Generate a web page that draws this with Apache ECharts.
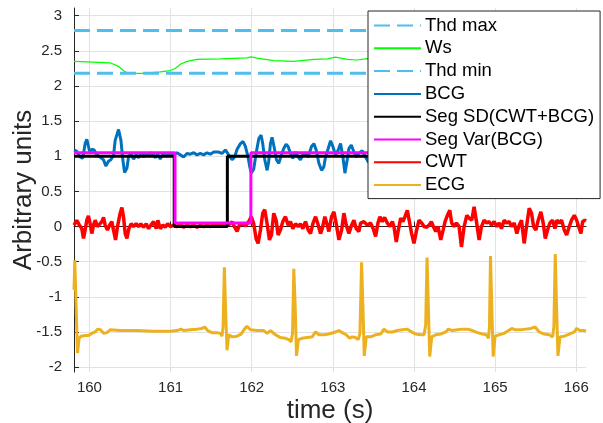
<!DOCTYPE html>
<html>
<head>
<meta charset="utf-8">
<script src="https://cdn.jsdelivr.net/npm/echarts@6/dist/echarts.min.js"></script>
<style>
  html, body { margin: 0; padding: 0; background: #fff; }
  #chart { width: 603px; height: 423px; }
</style>
</head>
<body>
<div id="chart"></div>
<script>
// axis limits (s / arbitrary units)
const xLimits = [159.81, 166.12];
const yLimits = [-2.07, 3.11];

// thresholds
const thdMax = 2.79;
const thdMin = 2.18;

// Ws
const wsT = [159.81, 160.05, 160.255, 160.358, 160.44, 160.502, 160.667, 160.872, 160.996, 161.058, 161.12, 161.202, 161.325, 161.613, 161.86, 161.942, 161.992, 162.066, 162.272, 162.519, 162.766, 162.93, 163.033, 163.177, 163.3, 163.424, 163.5];
const wsV = [2.35, 2.34, 2.33, 2.28, 2.20, 2.18, 2.18, 2.20, 2.22, 2.25, 2.31, 2.35, 2.38, 2.387, 2.397, 2.40, 2.415, 2.397, 2.36, 2.35, 2.38, 2.387, 2.41, 2.38, 2.37, 2.39, 2.38];

// BCG
const bcgT = [159.811, 159.844, 159.885, 159.918, 159.947, 159.968, 159.988, 160.009, 160.03, 160.058, 160.091, 160.132, 160.174, 160.202, 160.235, 160.264, 160.297, 160.318, 160.359, 160.388, 160.412, 160.433, 160.462, 160.482, 160.511, 160.544, 160.577, 160.606, 160.639, 160.667, 160.7, 160.729, 160.77, 160.811, 160.84, 160.873, 160.906, 160.947, 160.988, 161.038, 161.079, 161.12, 161.161, 161.202, 161.243, 161.285, 161.326, 161.367, 161.408, 161.449, 161.49, 161.532,
  161.552, 161.593, 161.634, 161.675, 161.717, 161.758, 161.79, 161.82, 161.861, 161.894, 161.922, 161.955, 161.976, 161.996, 162.025, 162.054, 162.087, 162.116, 162.136, 162.161, 162.19, 162.21, 162.231, 162.251, 162.28, 162.305, 162.334, 162.367, 162.395, 162.424, 162.449, 162.478, 162.507, 162.54, 162.573, 162.601, 162.63, 162.663, 162.696, 162.737, 162.766, 162.795, 162.828, 162.861, 162.889, 162.91, 162.943, 162.972, 163.0, 163.033, 163.066, 163.095, 163.124, 163.149, 163.177, 163.198, 163.227, 163.26, 163.288, 163.321, 163.362, 163.403, 163.437, 163.47];
const bcgV = [1.09, 1.07, 0.99, 0.97, 1.18, 1.24, 1.14, 1.04, 1.10, 1.09, 1.02, 0.99, 0.95, 0.86, 0.93, 0.95, 1.01, 1.23, 1.38, 1.23, 0.95, 0.77, 0.83, 0.99, 1.04, 0.96, 1.02, 0.98, 1.05, 0.99, 1.04, 1.01, 1.05, 0.98, 1.03, 0.96, 1.03, 1.0, 1.04, 1.02, 1.05, 1.02, 0.99, 1.04, 1.03, 1.05, 1.02, 1.04, 1.02, 1.05, 1.03, 1.06,
  1.05, 1.06, 1.04, 1.09, 1.02, 0.95, 0.99, 1.10, 1.18, 1.21, 1.14, 0.99, 0.85, 0.76, 0.82, 1.04, 1.25, 1.30, 1.18, 0.95, 0.80, 0.93, 1.18, 1.27, 1.11, 0.95, 0.90, 1.02, 1.11, 1.17, 1.14, 1.04, 0.97, 1.06, 0.99, 0.95, 1.02, 1.05, 0.99, 1.14, 1.18, 1.09, 0.90, 0.80, 0.85, 0.99, 1.11, 1.22, 1.14, 1.02, 1.09, 1.18, 0.99, 0.76, 0.95, 1.11, 1.16, 1.06, 0.99, 1.04, 1.08, 0.99, 0.92, 0.90];

// segmentation outputs
const sdT = [159.81, 161.045, 161.045, 161.70, 161.70, 166.12];
const sdV = [1, 1, 0, 0, 1, 1];
const varT = [159.81, 161.055, 161.055, 161.99, 161.99, 166.12];
const varV = [1.05, 1.05, 0.05, 0.05, 1.05, 1.05];

// CWT
const cwtT = [159.811, 159.844, 159.877, 159.906, 159.927, 159.947, 159.968, 159.988, 160.009, 160.03, 160.05, 160.071, 160.1, 160.124, 160.153, 160.174, 160.194, 160.223, 160.248, 160.276, 160.297, 160.322, 160.346, 160.379, 160.4, 160.42, 160.441, 160.462, 160.486, 160.515, 160.544, 160.577, 160.606, 160.634, 160.667, 160.7, 160.729, 160.758, 160.791, 160.824, 160.844, 160.873, 160.906, 160.935, 160.964, 160.997, 161.038, 161.079, 161.12, 161.161, 161.202, 161.243, 161.285, 161.326, 161.367, 161.408, 161.449, 161.49, 161.532,
  161.552, 161.593, 161.634, 161.675, 161.717, 161.758, 161.79, 161.82, 161.848, 161.881, 161.922, 161.963, 161.996, 162.025, 162.054, 162.079, 162.108, 162.136, 162.161, 162.19, 162.219, 162.243, 162.272, 162.301, 162.326, 162.354, 162.383, 162.416, 162.449, 162.478, 162.507, 162.54, 162.573, 162.601, 162.63, 162.663, 162.696, 162.725, 162.754, 162.787, 162.815, 162.848, 162.869, 162.902, 162.931, 162.951, 162.984, 163.013, 163.042, 163.075, 163.108, 163.136, 163.165, 163.198, 163.231, 163.26, 163.288, 163.321,
  163.342, 163.383, 163.424, 163.465, 163.498, 163.527, 163.556, 163.58, 163.609, 163.638, 163.671, 163.704, 163.733, 163.753, 163.782, 163.807, 163.836, 163.864, 163.889, 163.918, 163.947, 163.971, 164.0, 164.029, 164.062, 164.095, 164.124, 164.157, 164.186, 164.214, 164.239, 164.268, 164.297, 164.33, 164.359, 164.383, 164.412, 164.441, 164.465, 164.494, 164.523, 164.556, 164.585, 164.618, 164.651, 164.679, 164.712, 164.741, 164.77, 164.803, 164.832, 164.864, 164.897, 164.926, 164.955, 164.988,
  165.021, 165.05, 165.078, 165.111, 165.14, 165.173, 165.202, 165.235, 165.268, 165.297, 165.325, 165.358, 165.387, 165.42, 165.449, 165.474, 165.502, 165.531, 165.564, 165.593, 165.618, 165.646, 165.675, 165.708, 165.737, 165.762, 165.79, 165.819, 165.852, 165.881, 165.914, 165.942, 165.976, 166.005, 166.029, 166.058, 166.078, 166.107, 166.12];
const cwtV = [0.02, 0.09, 0.02, -0.03, -0.17, -0.05, 0.09, 0.15, 0.04, -0.10, 0.02, 0.09, 0.0, 0.02, 0.07, 0.13, 0.02, -0.05, 0.02, 0.07, -0.05, -0.19, 0.0, 0.19, 0.27, 0.14, -0.10, -0.17, -0.03, 0.04, 0.0, 0.04, 0.0, 0.04, -0.01, 0.04, -0.03, 0.02, 0.07, -0.03, 0.09, -0.03, 0.02, -0.01, 0.04, 0.0, 0.02, 0.0, 0.04, -0.01, 0.02, 0.0, 0.02, -0.01, 0.02, 0.0, 0.02, 0.0, 0.03,
  0.02, 0.04, 0.0, 0.04, 0.02, 0.07, -0.01, -0.07, 0.02, 0.04, 0.01, 0.07, 0.14, 0.04, -0.17, -0.24, -0.05, 0.19, 0.24, 0.04, -0.19, -0.12, 0.19, 0.09, -0.12, -0.05, 0.07, 0.14, 0.02, 0.07, -0.03, 0.04, 0.0, 0.04, -0.03, 0.07, -0.05, -0.10, 0.04, 0.14, 0.04, -0.10, -0.03, 0.14, 0.02, -0.07, 0.14, 0.21, 0.04, -0.19, -0.05, 0.19, 0.02, -0.10, 0.02, 0.09, -0.03, -0.07,
  0.05, 0.07, 0.02, 0.05, -0.03, -0.14, 0.05, 0.14, 0.07, 0.13, 0.05, 0.0, 0.07, 0.0, -0.22, -0.05, 0.12, 0.07, 0.14, 0.23, 0.05, -0.10, -0.24, -0.07, 0.09, 0.05, 0.0, -0.01, 0.02, 0.07, 0.0, -0.07, 0.0, -0.19, -0.05, 0.07, 0.16, 0.23, 0.05, 0.0, 0.05, 0.0, -0.29, 0.0, 0.16, 0.12, 0.09, 0.28, 0.07, -0.19, 0.0, 0.09, 0.05, 0.07, 0.02, 0.07,
  0.0, 0.05, -0.03, 0.09, 0.05, 0.07, 0.0, 0.05, -0.10, 0.02, 0.09, -0.24, 0.0, 0.26, 0.19, 0.0, -0.05, 0.09, 0.21, 0.05, -0.17, -0.05, 0.05, 0.09, -0.03, 0.09, 0.05, 0.09, -0.05, -0.12, 0.0, 0.09, 0.16, 0.09, 0.0, -0.10, 0.07, 0.09, 0.08];

// ECG
const ecgT = [159.81, 159.82, 159.836, 159.853, 159.873, 159.898, 159.947, 159.988, 160.03, 160.071, 160.1, 160.14, 160.174, 160.215, 160.256, 160.379, 160.585, 160.791, 160.997, 161.079, 161.128, 161.161, 161.243, 161.326, 161.387, 161.42, 161.457, 161.511, 161.573, 161.614, 161.634, 161.647, 161.663, 161.68, 161.696, 161.717, 161.758, 161.82, 161.869, 161.91, 161.943, 161.984, 162.066, 162.148, 162.19, 162.231, 162.293, 162.355, 162.416, 162.457, 162.486, 162.503, 162.519, 162.536, 162.552, 162.576, 162.622, 162.684, 162.745, 162.787, 162.828, 162.89, 162.951, 163.033, 163.075, 163.116, 163.165, 163.206, 163.239, 163.28, 163.313, 163.334, 163.354, 163.371, 163.387, 163.412, 163.466, 163.527, 163.589, 163.63, 163.671, 163.733, 163.795, 163.856, 163.918, 163.971, 164.021, 164.083, 164.124, 164.144, 164.161, 164.177, 164.194, 164.219, 164.268, 164.33, 164.391, 164.424, 164.473, 164.535, 164.597, 164.659, 164.72, 164.782, 164.844, 164.893, 164.918, 164.93, 164.943, 164.959, 164.976, 165.0, 165.05, 165.112, 165.165, 165.206, 165.247, 165.317, 165.379, 165.441, 165.494, 165.543, 165.605, 165.667, 165.708, 165.724, 165.741, 165.757, 165.774, 165.799, 165.852, 165.914, 165.976, 166.004, 166.045, 166.099, 166.12];
const ecgV = [-0.90, -0.48, -1.14, -1.80, -1.59, -1.56, -1.55, -1.55, -1.52, -1.50, -1.46, -1.47, -1.52, -1.51, -1.47, -1.48, -1.48, -1.49, -1.49, -1.48, -1.46, -1.48, -1.47, -1.46, -1.45, -1.43, -1.48, -1.51, -1.51, -1.52, -1.56, -1.43, -0.58, -1.24, -1.76, -1.54, -1.57, -1.56, -1.53, -1.46, -1.42, -1.47, -1.48, -1.48, -1.52, -1.48, -1.54, -1.58, -1.59, -1.61, -1.64, -1.52, -0.60, -1.14, -1.84, -1.61, -1.59, -1.58, -1.57, -1.50, -1.54, -1.54, -1.53, -1.50, -1.48, -1.51, -1.54, -1.59, -1.57, -1.58, -1.61, -1.52, -0.51, -1.14, -1.84, -1.57, -1.57, -1.54, -1.53, -1.46, -1.50, -1.50, -1.48, -1.47, -1.46, -1.50, -1.53, -1.54, -1.54, -1.40, -0.44, -1.14, -1.85, -1.57, -1.54, -1.53, -1.50, -1.46, -1.48, -1.47, -1.46, -1.46, -1.48, -1.51, -1.53, -1.54, -1.59, -1.43, -0.42, -1.14, -1.85, -1.56, -1.54, -1.52, -1.48, -1.45, -1.47, -1.47, -1.46, -1.45, -1.43, -1.50, -1.53, -1.54, -1.57, -1.43, -0.39, -1.14, -1.84, -1.57, -1.56, -1.53, -1.50, -1.45, -1.48, -1.48, -1.49];

function pairs(t, v) {
  return t.map(function (x, i) { return [x, v[i]]; });
}

var font = 'Liberation Sans, Arial, Helvetica, sans-serif';
var axisColor = '#262626';
var gridColor = '#e2e2e2';

var myChart = echarts.init(document.getElementById('chart'));

function lineSeries(name, data, color, width, dashed, z) {
  return {
    name: name,
    type: 'line',
    data: data,
    z: z,
    symbol: 'none',
    showSymbol: false,
    animation: false,
    clip: true,
    lineStyle: { color: color, width: width, type: dashed ? [16, 7] : 'solid' },
    itemStyle: { color: color }
  };
}

var option = {
  backgroundColor: '#fff',
  animation: false,
  grid: { left: 74, right: 17, top: 8, bottom: 51, containLabel: false, outerBoundsMode: 'none' },
  legend: {
    orient: 'vertical',
    z: 20,
    left: 368,
    top: 11,
    padding: [5, 6, 4, 5],
    itemWidth: 47,
    itemHeight: 14,
    itemGap: 3.8,
    backgroundColor: '#fff',
    borderColor: axisColor,
    borderWidth: 1,
    borderRadius: 0,
    itemStyle: { opacity: 0 },
    textStyle: { fontFamily: font, fontSize: 18.5, color: '#000', lineHeight: 18, padding: [0, 0, 0, -1] },
    data: ['Thd max', 'Ws', 'Thd min', 'BCG', 'Seg SD(CWT+BCG)', 'Seg Var(BCG)', 'CWT', 'ECG']
  },
  xAxis: {
    type: 'value',
    min: xLimits[0],
    max: xLimits[1],
    splitNumber: 6,
    name: 'time (s)',
    nameLocation: 'middle',
    nameGap: 26,
    nameMoveOverlap: false,
    nameTextStyle: { fontFamily: font, fontSize: 26, color: axisColor },
    axisLine: { show: true, lineStyle: { color: axisColor, width: 1 } },
    axisTick: { show: true, inside: true, length: 5, lineStyle: { color: axisColor } },
    axisLabel: { fontFamily: font, fontSize: 15, color: axisColor, margin: 8, showMinLabel: false, showMaxLabel: false },
    splitLine: { show: true, showMinLine: false, showMaxLine: false, lineStyle: { color: gridColor, width: 1 } }
  },
  yAxis: {
    type: 'value',
    min: yLimits[0],
    max: yLimits[1],
    splitNumber: 10,
    name: 'Arbitrary units',
    nameLocation: 'middle',
    nameGap: 37,
    nameMoveOverlap: false,
    nameTextStyle: { fontFamily: font, fontSize: 26, color: axisColor },
    axisLine: { show: true, lineStyle: { color: axisColor, width: 1 } },
    axisTick: { show: true, inside: true, length: 5, lineStyle: { color: axisColor } },
    axisLabel: { fontFamily: font, fontSize: 15, color: axisColor, margin: 12, showMinLabel: false, showMaxLabel: false },
    splitLine: { show: true, showMinLine: false, showMaxLine: false, lineStyle: { color: gridColor, width: 1 } }
  },
  series: [
    lineSeries('Thd max', pairs(xLimits, [thdMax, thdMax]), '#4DBEEE', 3, true, 2),
    lineSeries('Ws', pairs(wsT, wsV), '#00FF00', 1.2, false, 2),
    lineSeries('Thd min', pairs(xLimits, [thdMin, thdMin]), '#4DBEEE', 3, true, 2),
    lineSeries('BCG', pairs(bcgT, bcgV), '#0072BD', 3, false, 3),
    lineSeries('Seg SD(CWT+BCG)', pairs(sdT, sdV), '#000000', 3, false, 4),
    lineSeries('Seg Var(BCG)', pairs(varT, varV), '#FF00FF', 3, false, 5),
    lineSeries('CWT', pairs(cwtT, cwtV), '#FF0000', 3.5, false, 2),
    lineSeries('ECG', pairs(ecgT, ecgV), '#EDB120', 3, false, 2)
  ]
};

myChart.setOption(option);
</script>
</body>
</html>
